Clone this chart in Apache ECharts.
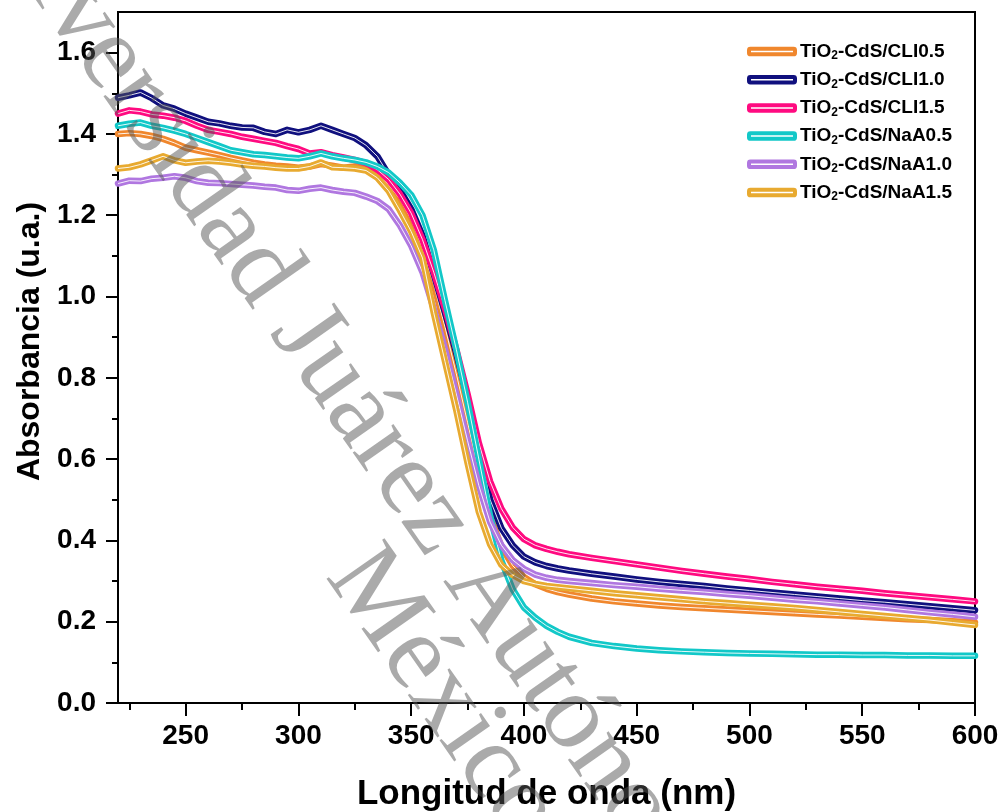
<!DOCTYPE html>
<html>
<head>
<meta charset="utf-8">
<script src="https://cdn.jsdelivr.net/npm/echarts@6/dist/echarts.min.js"></script>
<style>
html,body{margin:0;padding:0;background:#fff;}
#chart{width:1003px;height:812px;}
</style>
</head>
<body>
<div id="chart"></div>
<script>
// Wavelength (nm)
const WAVELENGTH = [220,225,230,235,240,245,250,255,260,265,270,275,280,285,290,295,300,305,310,315,320,325,330,335,340,345,350,355,360,365,370,375,380,385,390,395,400,405,410,415,420,
430,440,450,460,470,480,490,500,510,520,530,540,550,560,570,580,590,600];

const CLI05 = [1.400,1.402,1.400,1.395,1.388,1.378,1.366,1.360,1.354,1.348,1.341,1.335,1.329,1.325,1.322,1.320,1.317,1.320,1.326,1.322,1.317,1.320,1.314,1.300,1.275,1.240,1.190,1.120,1.030,0.925,0.810,0.690,0.570,0.460,0.385,0.338,0.310,0.292,0.281,0.273,0.267,
0.257,0.250,0.245,0.240,0.236,0.233,0.230,0.227,0.224,0.221,0.218,0.215,0.212,0.209,0.206,0.204,0.201,0.198];

const CLI10 = [1.489,1.495,1.502,1.488,1.470,1.462,1.450,1.440,1.430,1.426,1.420,1.416,1.415,1.405,1.400,1.410,1.404,1.410,1.420,1.410,1.400,1.390,1.372,1.345,1.300,1.262,1.215,1.150,1.055,0.960,0.860,0.750,0.630,0.500,0.430,0.388,0.360,0.346,0.337,0.331,0.326,
0.318,0.311,0.304,0.298,0.293,0.288,0.282,0.277,0.272,0.267,0.262,0.257,0.252,0.248,0.243,0.238,0.233,0.228];

const CLI15 = [1.450,1.458,1.455,1.448,1.445,1.440,1.432,1.420,1.410,1.405,1.400,1.393,1.388,1.383,1.378,1.370,1.363,1.352,1.355,1.348,1.342,1.336,1.328,1.312,1.288,1.252,1.205,1.140,1.060,0.970,0.870,0.760,0.640,0.545,0.478,0.432,0.403,0.388,0.379,0.372,0.366,
0.357,0.349,0.341,0.333,0.325,0.318,0.311,0.305,0.298,0.292,0.286,0.281,0.276,0.270,0.265,0.260,0.255,0.250];

const NAA05 = [1.420,1.425,1.428,1.420,1.415,1.408,1.400,1.390,1.380,1.370,1.360,1.355,1.350,1.348,1.345,1.342,1.340,1.345,1.352,1.345,1.340,1.336,1.330,1.320,1.305,1.280,1.250,1.200,1.115,0.990,0.870,0.740,0.600,0.460,0.350,0.280,0.235,0.210,0.190,0.175,0.163,
0.148,0.140,0.134,0.130,0.127,0.125,0.123,0.122,0.121,0.120,0.119,0.119,0.118,0.118,0.117,0.117,0.116,0.116];

const NAA10 = [1.278,1.285,1.284,1.290,1.292,1.296,1.292,1.284,1.280,1.279,1.277,1.275,1.273,1.270,1.268,1.262,1.260,1.265,1.268,1.262,1.258,1.255,1.246,1.235,1.215,1.175,1.125,1.060,0.970,0.870,0.760,0.645,0.535,0.445,0.388,0.352,0.330,0.316,0.308,0.303,0.300,
0.295,0.290,0.286,0.281,0.277,0.273,0.268,0.264,0.259,0.254,0.250,0.245,0.240,0.235,0.229,0.223,0.218,0.212];

const NAA15 = [1.315,1.318,1.325,1.335,1.345,1.335,1.329,1.332,1.334,1.332,1.329,1.325,1.322,1.320,1.317,1.315,1.315,1.320,1.330,1.318,1.317,1.315,1.310,1.292,1.260,1.212,1.160,1.095,0.960,0.840,0.720,0.590,0.470,0.390,0.340,0.315,0.300,0.293,0.288,0.285,0.282,
0.276,0.270,0.265,0.260,0.255,0.250,0.246,0.242,0.238,0.234,0.229,0.224,0.219,0.214,0.209,0.204,0.198,0.192];

const SERIES_NAMES = ['TiO2-CdS/CLI0.5','TiO2-CdS/CLI1.0','TiO2-CdS/CLI1.5','TiO2-CdS/NaA0.5','TiO2-CdS/NaA1.0','TiO2-CdS/NaA1.5'];
const X_MAJOR = [250,300,350,400,450,500,550,600];
const X_MINOR = [225,275,325,375,425,475,525,575];
const Y_MAJOR = [0,0.2,0.4,0.6,0.8,1.0,1.2,1.4,1.6];
const Y_MINOR = [0.1,0.3,0.5,0.7,0.9,1.1,1.3,1.5];
const X_TITLE = 'Longitud de onda (nm)';
const Y_TITLE = 'Absorbancia (u.a.)';
const WATERMARK_1 = 'Universidad Juárez Autónoma de Tabasco';
const WATERMARK_2 = 'México';

const COLORS = ['#F0872D','#10107E','#FF0A80','#12C8C8','#B077E0','#E8AA30'];
const VALUES = [CLI05, CLI10, CLI15, NAA05, NAA10, NAA15];
const FONT = "'Liberation Sans', Arial, sans-serif";
const SERIF = "'Liberation Serif', 'DejaVu Serif', serif";

const series = [];
SERIES_NAMES.forEach((name, i) => {
  const data = WAVELENGTH.map((w, k) => [w, VALUES[i][k]]);
  series.push({
    name, type: 'line', data, showSymbol: false, symbol: 'none',
    lineStyle: {color: COLORS[i], width: 6.5, join: 'round', cap: 'round'},
    itemStyle: {color: COLORS[i]}, z: 2, animation: false
  });
  series.push({
    name, type: 'line', data, showSymbol: false, symbol: 'none', silent: true,
    lineStyle: {color: '#ffffff', width: 0.9, join: 'round'},
    itemStyle: {color: COLORS[i]}, z: 2, animation: false
  });
});

const chart = echarts.init(document.getElementById('chart'), null, {renderer: 'canvas'});
chart.setOption({
  backgroundColor: '#ffffff',
  animation: false,
  grid: {left: 118, right: 28, top: 12, bottom: 109, show: true, borderColor: '#000', borderWidth: 2, backgroundColor: 'transparent', containLabel: false, outerBoundsMode: 'none'},
  legend: {
    orient: 'vertical', left: 742, top: 37, itemWidth: 46, itemHeight: 5.5, itemGap: 8.2,
    icon: 'roundRect',
    data: SERIES_NAMES.map((n, i) => ({name: n, itemStyle: {color: '#ffffff', borderColor: COLORS[i], borderWidth: 4}})),
    formatter: n => '{a|TiO}{s|2}{a|' + n.slice(4) + '}',
    textStyle: {
      fontFamily: FONT, fontWeight: 'bold', fontSize: 19, color: '#000',
      rich: {
        a: {fontFamily: FONT, fontWeight: 'bold', fontSize: 19, color: '#000', lineHeight: 21},
        s: {fontFamily: FONT, fontWeight: 'bold', fontSize: 12, color: '#000', lineHeight: 12, verticalAlign: 'bottom'}
      }
    }
  },
  xAxis: [{
    type: 'value', min: 220, max: 600, position: 'bottom',
    axisLine: {show: true, onZero: false, lineStyle: {color: '#000', width: 2}},
    axisTick: {show: true, length: 13, customValues: X_MAJOR, lineStyle: {color: '#000', width: 2}},
    axisLabel: {customValues: X_MAJOR, fontFamily: FONT, fontWeight: 'bold', fontSize: 28, color: '#000', margin: 19},
    splitLine: {show: false},
    name: X_TITLE, nameLocation: 'middle', nameGap: 74,
    nameTextStyle: {fontFamily: FONT, fontWeight: 'bold', fontSize: 35, color: '#000'}
  }, {
    type: 'value', min: 220, max: 600, position: 'bottom',
    axisLine: {show: false},
    axisTick: {show: true, length: 7, customValues: X_MINOR, lineStyle: {color: '#000', width: 2}},
    axisLabel: {show: false}, splitLine: {show: false}
  }],
  yAxis: [{
    type: 'value', min: 0, max: 1.7, position: 'left',
    axisLine: {show: true, onZero: false, lineStyle: {color: '#000', width: 2}},
    axisTick: {show: true, length: 12, customValues: Y_MAJOR, lineStyle: {color: '#000', width: 2}},
    axisLabel: {customValues: Y_MAJOR, formatter: v => v.toFixed(1), fontFamily: FONT, fontWeight: 'bold', fontSize: 28, color: '#000', margin: 22},
    splitLine: {show: false},
    name: Y_TITLE, nameLocation: 'middle', nameGap: 67,
    nameTextStyle: {fontFamily: FONT, fontWeight: 'bold', fontSize: 32, color: '#000', padding: [0, 0, 0, 32]}
  }, {
    type: 'value', min: 0, max: 1.7, position: 'left',
    axisLine: {show: false},
    axisTick: {show: true, length: 6, customValues: Y_MINOR, lineStyle: {color: '#000', width: 2}},
    axisLabel: {show: false}, splitLine: {show: false}
  }],
  series,
  graphic: [
    {type: 'text', x: -26, y: -138, rotation: -55 * Math.PI / 180, z: 100, silent: true,
     style: {text: WATERMARK_1, fontFamily: SERIF, fontSize: 108, fill: 'rgba(85,85,85,0.5)', align: 'left', verticalAlign: 'middle'}},
    {type: 'text', x: 348, y: 560, rotation: -55 * Math.PI / 180, z: 100, silent: true,
     style: {text: WATERMARK_2, fontFamily: SERIF, fontSize: 108, fill: 'rgba(85,85,85,0.5)', align: 'left', verticalAlign: 'middle'}}
  ]
});
</script>
</body>
</html>
